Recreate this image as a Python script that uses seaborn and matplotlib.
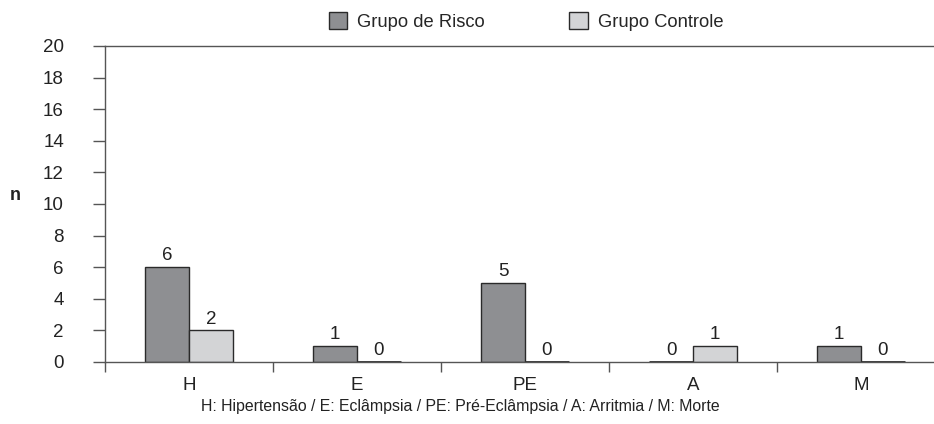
import numpy as np
import pandas as pd
import matplotlib
matplotlib.use('Agg')
import matplotlib.pyplot as plt
import seaborn as sns

# data
categorias = ['H', 'E', 'PE', 'A', 'M']
grupo_risco = [6, 1, 5, 0, 1]
grupo_controle = [2, 0, 0, 1, 0]
grupos = ['Grupo de Risco', 'Grupo Controle']
nota = 'H: Hipertensão / E: Eclâmpsia / PE: Pré-Eclâmpsia / A: Arritmia / M: Morte'

df = pd.DataFrame({
    'cat': categorias * 2,
    'n': grupo_risco + grupo_controle,
    'grupo': [grupos[0]] * len(categorias) + [grupos[1]] * len(categorias),
})

sns.set_style('white')
plt.rcParams['font.family'] = ['Liberation Sans', 'DejaVu Sans']
plt.rcParams['font.size'] = 13

fig = plt.figure(figsize=(9.34, 4.24), dpi=100)
ax = fig.add_axes([105 / 934, 1 - 362 / 424, 829 / 934, 316 / 424])

sns.barplot(data=df, x='cat', y='n', hue='grupo', order=categorias, hue_order=grupos,
            palette=['#8e8f92', '#d3d4d6'], width=0.52, edgecolor='#2a2a2a',
            linewidth=1, saturation=1, ax=ax)

# value labels above each bar, zero bars drawn as a thicker base line
for cont in ax.containers:
    ax.bar_label(cont, labels=[f'{int(b.get_height())}' for b in cont], padding=2,
                 fontsize=13.5, color='#222222')
    for b in cont:
        if b.get_height() == 0:
            b.set_linewidth(2)

ax.set_yticks(range(0, 21, 2))
ax.set_xticks(range(len(categorias)), categorias)
ax.set_xticks(np.arange(-0.5, len(categorias), 1), minor=True)
ax.set_ylim(0, 20)
ax.set_xlim(-0.5, 4.435)
ax.tick_params(axis='x', which='major', length=0, pad=11, labelsize=13.5, colors='#222222')
ax.tick_params(axis='x', which='minor', length=7.2, width=1, direction='out', color='#555555')
ax.tick_params(axis='y', length=8.6, width=1, direction='out', pad=21, labelsize=13.5,
               color='#555555', labelcolor='#222222')
ax.tick_params(bottom=True, left=True, which='both')

for s in ['left', 'top', 'bottom']:
    ax.spines[s].set_color('#555555')
    ax.spines[s].set_linewidth(1)
ax.spines['right'].set_visible(False)

ax.set_xlabel('')
ax.set_ylabel('n', rotation=0, fontweight='bold', fontsize=13, color='#222222')
ax.yaxis.set_label_coords(-0.108, 0.5)

ax.legend(ncol=2, loc='center', bbox_to_anchor=(0.508, 1.078), frameon=False,
          fontsize=13.2, handlelength=1.0, handleheight=1.0, handletextpad=0.55,
          columnspacing=4.6)

fig.text(460 / 934, 1 - 407 / 424, nota, ha='center', va='center', fontsize=11.4,
         color='#222222')

fig.savefig('out.png', dpi=100)
